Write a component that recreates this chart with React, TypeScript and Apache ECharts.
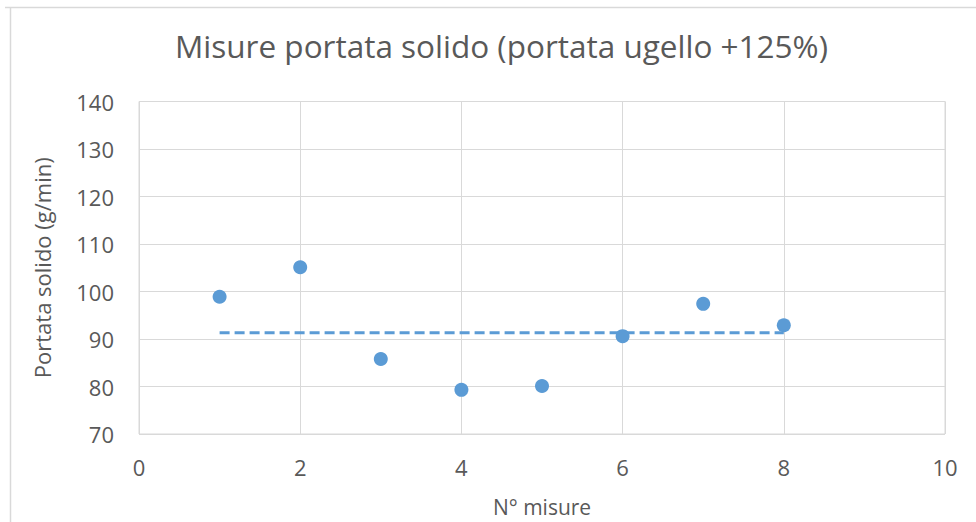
import React, { useEffect, useRef } from "react";
import * as echarts from "echarts";

const titleText = "Misure portata solido (portata ugello +125%)";
const xAxisName = "N° misure";
const yAxisName = "Portata solido (g/min)";
const measureIndex = [1, 2, 3, 4, 5, 6, 7, 8];
const measureValues = [98.9, 105.1, 85.8, 79.3, 80.1, 90.6, 97.4, 92.9];
const meanX = [1, 8];
const meanValue = 91.3;

const FONT = "'Open Sans', 'Noto Sans', sans-serif";
const TXT = "#595959";
const GRID = "#d9d9d9";
const BLUE = "#5b9bd5";

export default function App() {
  const ref = useRef<HTMLDivElement>(null);
  useEffect(() => {
    if (!ref.current) return;
    const chart = echarts.init(ref.current, null, { renderer: "svg" });
    chart.setOption({
      animation: false,
      backgroundColor: "#ffffff",
      title: {
        text: titleText,
        left: 170,
        top: 24,
        padding: 5,
        textStyle: { fontFamily: FONT, fontSize: 31.5, fontWeight: "normal", color: TXT },
      },
      graphic: [
        { type: "line", shape: { x1: 5, y1: 7.5, x2: 976, y2: 7.5 }, style: { stroke: GRID, lineWidth: 1.5 } },
        { type: "line", shape: { x1: 10.5, y1: 7, x2: 10.5, y2: 522 }, style: { stroke: GRID, lineWidth: 1.5 } },
      ],
      grid: { left: 139, right: 31, top: 101.5, bottom: 87, show: true, borderColor: GRID, borderWidth: 1 },
      xAxis: {
        type: "value",
        min: 0,
        max: 10,
        interval: 2,
        name: xAxisName,
        nameLocation: "middle",
        nameGap: 62,
        nameTextStyle: { fontFamily: FONT, fontSize: 21, color: TXT },
        axisLine: { show: false },
        axisTick: { show: false },
        axisLabel: { fontFamily: FONT, fontSize: 22, color: TXT, margin: 22 },
        splitLine: { show: true, lineStyle: { color: GRID, width: 1 } },
      },
      yAxis: {
        type: "value",
        min: 70,
        max: 140,
        interval: 10,
        name: yAxisName,
        nameLocation: "middle",
        nameGap: 86,
        nameTextStyle: { fontFamily: FONT, fontSize: 22, color: TXT },
        axisLine: { show: false },
        axisTick: { show: false },
        axisLabel: { fontFamily: FONT, fontSize: 22, color: TXT, margin: 25 },
        splitLine: { show: true, lineStyle: { color: GRID, width: 1 } },
      },
      series: [
        {
          type: "line",
          data: meanX.map((x) => [x, meanValue]),
          symbol: "none",
          lineStyle: { color: BLUE, width: 3, type: [10, 5] },
          z: 2,
        },
        {
          type: "scatter",
          data: measureIndex.map((x, i) => [x, measureValues[i]]),
          symbol: "circle",
          symbolSize: 14,
          itemStyle: { color: BLUE, opacity: 1 },
          z: 3,
        },
      ],
    });
    return () => chart.dispose();
  }, []);
  return <div ref={ref} style={{ position: "fixed", left: 0, top: 0, width: 976, height: 522 }} />;
}
